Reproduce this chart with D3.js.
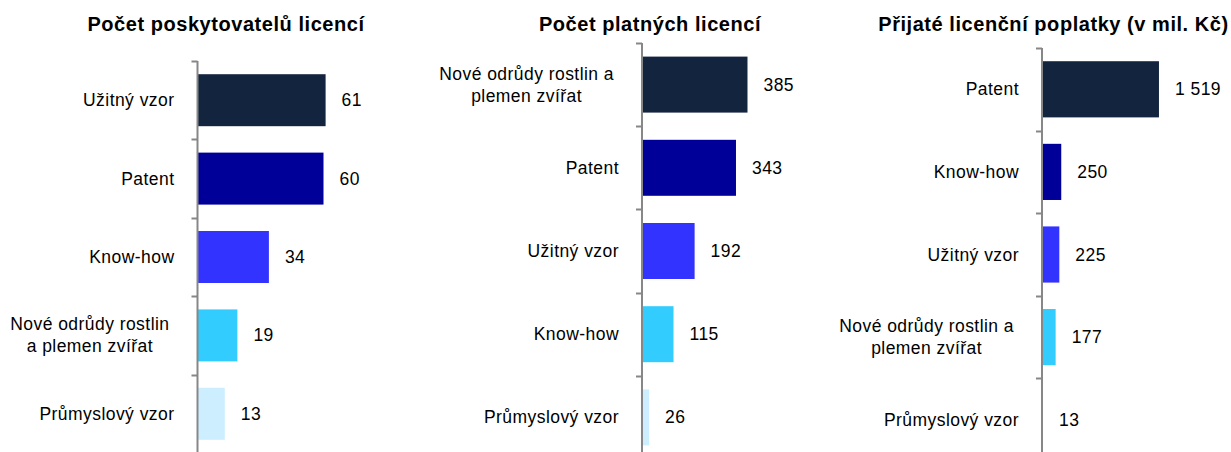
<!DOCTYPE html>
<html>
<head>
<meta charset="utf-8">
<script src="https://cdn.jsdelivr.net/npm/d3@7"></script>
<style>
  html, body { margin: 0; padding: 0; background: #fff; }
  svg { display: block; }
  text { font-family: "Liberation Sans", Arial, sans-serif; fill: #000; }
</style>
</head>
<body>
<svg id="chart" width="1231" height="452"></svg>
<script>
// ---- Data ----
const titles = ["Počet poskytovatelů licencí", "Počet platných licencí", "Přijaté licenční poplatky (v mil. Kč)"];

const categories1 = ["Užitný vzor", "Patent", "Know-how", "Nové odrůdy rostlin\na plemen zvířat", "Průmyslový vzor"];
const values1 = [61, 60, 34, 19, 13];

const categories2 = ["Nové odrůdy rostlin a\nplemen zvířat", "Patent", "Užitný vzor", "Know-how", "Průmyslový vzor"];
const values2 = [385, 343, 192, 115, 26];

const categories3 = ["Patent", "Know-how", "Užitný vzor", "Nové odrůdy rostlin a\nplemen zvířat", "Průmyslový vzor"];
const values3 = [1519, 250, 225, 177, 13];

const barColors = ["#13243f", "#000099", "#3333ff", "#33ccff", "#cceeff"];

// ---- Layout ----
const panels = [
  { title: titles[0], cats: categories1, vals: values1, axisX: 197.5, yTop: 61, yBot: 453, pad: 0.337, xMax: 70, xLen: 147, titleX: 226 },
  { title: titles[1], cats: categories2, vals: values2, axisX: 642, yTop: 43, yBot: 459, pad: 0.327, xMax: 400, xLen: 109.6, titleX: 650 },
  { title: titles[2], cats: categories3, vals: values3, axisX: 1042, yTop: 48, yBot: 461, pad: 0.32, xMax: 1600, xLen: 123.2, titleX: 1053.5 }
];

const fmt = d3.formatLocale({ decimal: ",", thousands: "\u00a0", grouping: [3], currency: ["", " Kč"] }).format(",d");
const svg = d3.select("#chart");
const fontSize = 17.5;
const labelSpacing = "0.45px";

panels.forEach(p => {
  const g = svg.append("g");
  const idx = d3.range(p.cats.length);
  const y = d3.scaleBand().domain(idx).range([p.yTop, p.yBot]).paddingInner(p.pad).paddingOuter(p.pad / 2);
  const x = d3.scaleLinear().domain([0, p.xMax]).range([p.axisX, p.axisX + p.xLen]);

  // Title
  g.append("text")
    .attr("x", p.titleX).attr("y", 31)
    .attr("text-anchor", "middle")
    .style("font-size", "20px").style("font-weight", "bold")
    .style("letter-spacing", "0.55px")
    .text(p.title);

  // Bars
  g.selectAll("rect").data(idx).join("rect")
    .attr("x", x(0))
    .attr("y", i => y(i))
    .attr("width", i => x(p.vals[i]) - x(0))
    .attr("height", y.bandwidth())
    .attr("fill", i => barColors[i]);

  // Axis line and ticks (category boundaries)
  const bounds = idx.map(i => y(i) - y.step() * y.paddingInner() / 2);
  const axisG = g.append("g");
  axisG.append("line")
    .attr("x1", p.axisX).attr("x2", p.axisX)
    .attr("y1", p.yTop).attr("y2", 452)
    .attr("stroke", "#878787").attr("stroke-width", 2);
  axisG.selectAll("line.tick").data(bounds).join("line")
    .attr("class", "tick")
    .attr("x1", p.axisX - 6).attr("x2", p.axisX)
    .attr("y1", d => Math.round(d) + 0.5).attr("y2", d => Math.round(d) + 0.5)
    .attr("stroke", "#878787").attr("stroke-width", 2);

  // Category labels
  idx.forEach(i => {
    const lines = p.cats[i].split("\n");
    const cy = y(i) + y.bandwidth() / 2;
    const t = g.append("text")
      .style("font-size", fontSize + "px")
      .style("letter-spacing", labelSpacing)
      .attr("dominant-baseline", "central");
    if (lines.length === 1) {
      t.attr("x", p.axisX - 23).attr("y", cy).attr("text-anchor", "end").text(lines[0]);
    } else {
      const lh = 22;
      const spans = lines.map((l, k) => t.append("tspan").attr("y", cy + (k - (lines.length - 1) / 2) * lh).text(l));
      const w = d3.max(spans, s => s.node().getComputedTextLength());
      const cx = p.axisX - 28 - w / 2;
      t.attr("text-anchor", "middle");
      spans.forEach(s => s.attr("x", cx));
    }
  });

  // Value labels
  g.selectAll("text.val").data(idx).join("text")
    .attr("class", "val")
    .attr("x", i => x(p.vals[i]) + 16)
    .attr("y", i => y(i) + y.bandwidth() / 2)
    .attr("dominant-baseline", "central")
    .style("font-size", fontSize + "px")
    .style("letter-spacing", labelSpacing)
    .text(i => fmt(p.vals[i]));
});
</script>
</body>
</html>
